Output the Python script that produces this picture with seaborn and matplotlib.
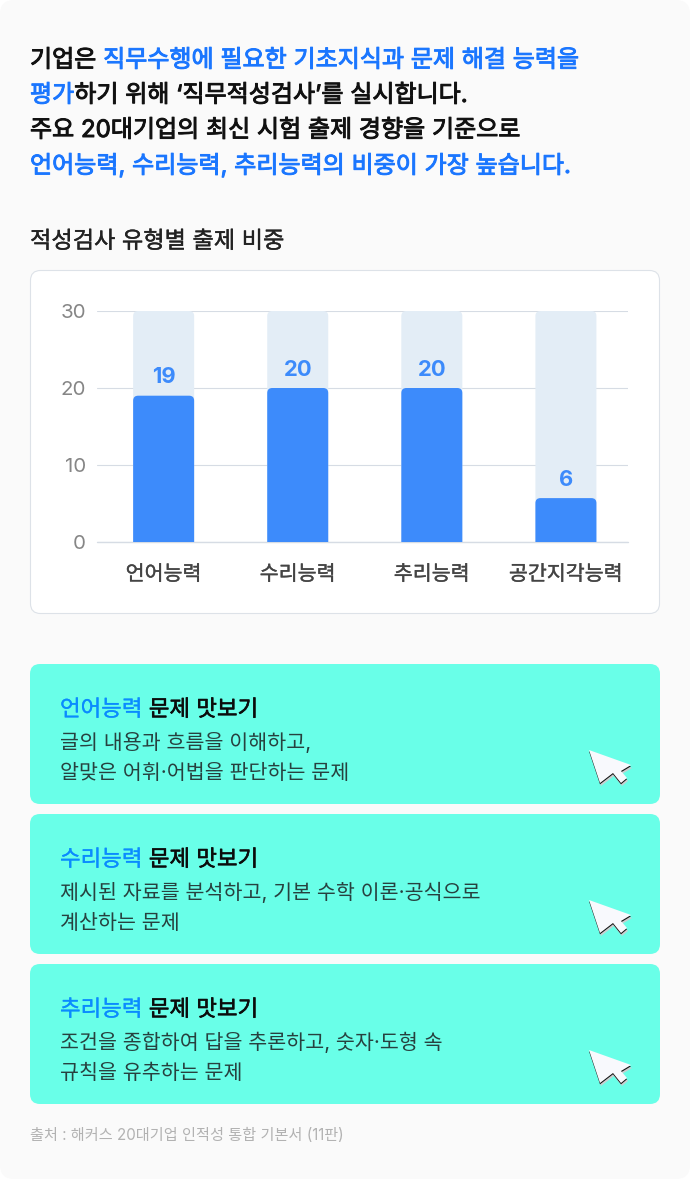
import matplotlib
matplotlib.use("Agg")
import matplotlib.pyplot as plt
import matplotlib.patheffects as pe
import seaborn as sns
import pandas as pd
from matplotlib.patches import FancyBboxPatch, Polygon

categories = ["언어능력", "수리능력", "추리능력", "공간지각능력"]
values = [19, 20, 20, 5.7]
value_labels = ["19", "20", "20", "6"]
totals = [30, 30, 30, 30]
y_ticks = [0, 10, 20, 30]

BLACK = "#111111"
BLUE = "#1a76ff"
headline = [
    [("기업은 ", BLACK), ("직무수행에 필요한 기초지식과 문제 해결 능력을", BLUE)],
    [("평가", BLUE), ("하기 위해 ‘직무적성검사’를 실시합니다.", BLACK)],
    [("주요 20대기업의 최신 시험 출제 경향을 기준으로", BLACK)],
    [("언어능력, 수리능력, 추리능력의 비중이 가장 높습니다.", BLUE)],
]
chart_title = "적성검사 유형별 출제 비중"
card_titles = ["언어능력", "수리능력", "추리능력"]
card_suffix = " 문제 맛보기"
card_bodies = [
    ["글의 내용과 흐름을 이해하고,", "알맞은 어휘·어법을 판단하는 문제"],
    ["제시된 자료를 분석하고, 기본 수학 이론·공식으로", "계산하는 문제"],
    ["조건을 종합하여 답을 추론하고, 숫자·도형 속", "규칙을 유추하는 문제"],
]
source = "출처 : 해커스 20대기업 인적성 통합 기본서 (11판)"

sns.set_theme(style="white")
FAM = ["Inter", "Noto Sans CJK KR", "DejaVu Sans"]
plt.rcParams["font.family"] = FAM

W, H = 690, 1179
fig = plt.figure(figsize=(W / 100, H / 100), dpi=100, facecolor="white")
bg = fig.add_axes([0, 0, 1, 1])
bg.set_xlim(0, W)
bg.set_ylim(H, 0)
bg.axis("off")
px = 0.72


def rbox(x0, y0, x1, y1, r, fc, ec="none", lw=0):
    bg.add_patch(FancyBboxPatch((x0 + r, y0 + r), x1 - x0 - 2 * r, y1 - y0 - 2 * r,
                                boxstyle=f"round,pad={r},rounding_size={r}",
                                fc=fc, ec=ec, lw=lw))


renderer = fig.canvas.get_renderer()


def width(s, size):
    probe = bg.text(0, 0, s + "|", fontsize=size)
    bar = bg.text(0, 0, "|", fontsize=size)
    w = probe.get_window_extent(renderer).width - bar.get_window_extent(renderer).width
    probe.remove()
    bar.remove()
    return w


def heavier(c, lw):
    return [pe.withStroke(linewidth=lw, foreground=c)]


def runs(x, y, parts, size, lws):
    for (s, c), lw in zip(parts, lws):
        bg.text(x, y, s, color=c, fontsize=size, va="baseline", ha="left",
                path_effects=heavier(c, lw))
        x += width(s, size)


rbox(0, 0, W, H, 14, "#fafafa")

for parts, base in zip(headline, [67, 102, 137, 173]):
    runs(30, base, parts, 24.03 * px, [0.7, 0.7])

bg.text(30, 248, chart_title, color="#222222", fontsize=23.2 * px, va="baseline",
        path_effects=heavier("#222222", 0.3))
rbox(30.5, 270.5, 659.5, 613.5, 10, "white", "#dde2e8", 0.8)

# cards
tops = [664, 814, 964]
for top, name, body in zip(tops, card_titles, card_bodies):
    rbox(30, top, 660, top + 140, 10, "#69ffe8")
    runs(60, top + 52, [(name, "#0a8bff"), (card_suffix, "#0b0b0b")], 22.4 * px, [0.2, 0.4])
    bg.text(60, top + 85, body[0], color="#27413f", fontsize=20.6 * px, va="baseline")
    bg.text(60, top + 115, body[1], color="#27413f", fontsize=20.6 * px, va="baseline")
    dy = top - 664
    shape = [(589, 750), (631, 765), (621, 771), (627, 778), (621, 783), (613, 773), (600, 783)]
    bg.add_patch(Polygon([(a + 1, b + 3 + dy) for a, b in shape], fc="#c9cfd0", ec="none"))
    bg.add_patch(Polygon([(a, b + 1.3 + dy) for a, b in shape], fc="#111111", ec="none"))
    bg.add_patch(Polygon([(a, b + dy) for a, b in shape], fc="#f8f9fd", ec="none"))

bg.text(30, 1140, source, color="#b2b2b2", fontsize=15.15 * px, va="baseline")

# chart
L, R, T, B = 97, 628, 311, 542
ax = fig.add_axes([L / W, 1 - B / H, (R - L) / W, (B - T) / H])
ax.patch.set_alpha(0)
df = pd.DataFrame({"category": categories, "value": values, "total": totals})
sns.barplot(data=df, x="category", y="total", color="#e3edf6", width=0.455,
            saturation=1, ax=ax, zorder=3)
n_bg = len(ax.patches)
sns.barplot(data=df, x="category", y="value", color="#3d8bfb", width=0.455,
            saturation=1, ax=ax, zorder=4)
ax.set_xlim(-0.497, 3.463)
ax.set_ylim(0, 30)

unit_x = 134
unit_y = (B - T) / 30
r_px = 5
for i, p in enumerate(list(ax.patches)):
    x, w, h = p.get_x(), p.get_width(), p.get_height()
    col = p.get_facecolor()
    p.set_visible(False)
    ax.add_patch(FancyBboxPatch((x, -3), w, h + 3,
                                boxstyle=f"round,pad=0,rounding_size={r_px / unit_x}",
                                mutation_aspect=unit_x / unit_y, fc=col, ec="none",
                                zorder=3 if i < n_bg else 4))
ax.bar_label(ax.containers[1], labels=value_labels, padding=6,
             color="#3d8bfb", fontsize=22 * px, fontweight="bold", zorder=6)

ax.set_yticks(y_ticks)
ax.set_xlabel("")
ax.set_ylabel("")
ax.grid(axis="y", color="#d6dce4", lw=0.8)
ax.grid(axis="x", visible=False)
ax.set_axisbelow(True)
sns.despine(ax=ax, left=True, bottom=True, top=True, right=True)
ax.tick_params(axis="y", length=0, pad=8, labelsize=20.5 * px, labelcolor="#868686")
ax.tick_params(axis="x", length=0, pad=16, labelsize=20.6 * px, labelcolor="#444444")
for t in ax.get_xticklabels():
    t.set_path_effects(heavier("#444444", 0.25))
ax.axhline(0, color="#d6dce4", lw=1, clip_on=False, zorder=2)

fig.savefig("out.png", dpi=100, facecolor="white")
